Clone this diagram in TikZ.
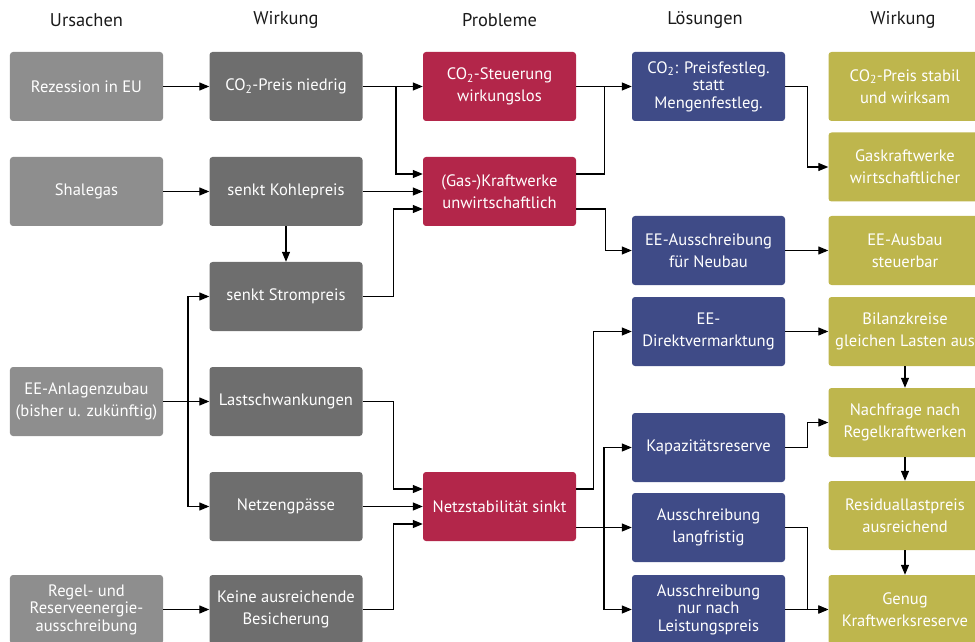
\documentclass[tikz,border=0pt]{standalone}
\usepackage{fontspec}
\setmainfont{PT Sans}
\usetikzlibrary{arrows.meta,calc}
\definecolor{cone}{HTML}{8E8E8E}
\definecolor{ctwo}{HTML}{6E6E6E}
\definecolor{cred}{HTML}{B3264A}
\definecolor{cblue}{HTML}{3F4B87}
\definecolor{colive}{HTML}{BEB64D}
\definecolor{chead}{HTML}{1A1A1A}
\newcommand{\cotwo}{CO\textsubscript{2}}
\tikzset{
  box/.style={rounded corners=3bp, minimum width=153bp, minimum height=69bp, inner sep=0pt,
    text=white, align=center, font=\fontsize{16.6}{22}\selectfont},
  tri/.style={font=\fontsize{16.6}{17.6}\selectfont},
  bone/.style={box, fill=cone},
  btwo/.style={box, fill=ctwo},
  bred/.style={box, fill=cred},
  bblue/.style={box, fill=cblue},
  bolive/.style={box, fill=colive},
  head/.style={text=chead, font=\fontsize{18.5}{20}\selectfont},
  conn/.style={line width=1.2bp, draw=black},
  arr/.style={conn, -{Triangle[length=10bp,width=8bp]}},
}
\begin{document}
\begin{tikzpicture}[x=1bp,y=-1bp]
\useasboundingbox (0,0) rectangle (975,642);
\clip (0,0) rectangle (975,642);
% headers
\node[head] (h1) at (86.5,20) {Ursachen};
\node[head] (h2) at (286,20) {Wirkung};
\node[head] (h3) at (499.5,20) {Probleme};
\node[head] (h4) at (705,20) {Lösungen};
\node[head] (h5) at (903,20) {Wirkung};
% column 1
\node[bone] (c1) at (86.5,86.5) {Rezession in EU};
\node[bone] (c2) at (86.5,191.5) {Shalegas};
\node[bone] (c3) at (86.5,401.5) {EE-Anlagenzubau\\(bisher u. zukünftig)};
\node[bone,tri] (c4) at (86.5,609.5) {Regel- und\\Reserveenergie-\\ausschreibung};
% column 2
\node[btwo] (w1) at (286,86.5) {\cotwo-Preis niedrig};
\node[btwo] (w2) at (286,191.5) {senkt Kohlepreis};
\node[btwo] (w3) at (286,296.5) {senkt Strompreis};
\node[btwo] (w4) at (286,401.5) {Lastschwankungen};
\node[btwo] (w5) at (286,506.5) {Netzengpässe};
\node[btwo] (w6) at (286,609.5) {Keine ausreichende\\Besicherung};
% column 3
\node[bred] (p1) at (499.5,86.5) {\cotwo-Steuerung\\wirkungslos};
\node[bred] (p2) at (499.5,191.5) {(Gas-)Kraftwerke\\unwirtschaftlich};
\node[bred] (p3) at (499.5,506.5) {Netzstabilität sinkt};
% column 4
\node[bblue,tri] (l1) at (708.5,86.5) {\cotwo: Preisfestleg.\\statt\\Mengenfestleg.};
\node[bblue] (l2) at (708.5,250.5) {EE-Ausschreibung\\für Neubau};
\node[bblue] (l3) at (708.5,331.5) {EE-\\Direktvermarktung};
\node[bblue] (l4) at (708.5,447.5) {Kapazitätsreserve};
\node[bblue] (l5) at (708.5,527.5) {Ausschreibung\\langfristig};
\node[bblue,tri] (l6) at (708.5,609.5) {Ausschreibung\\nur nach\\Leistungspreis};
% column 5
\node[bolive] (f1) at (905,86.5) {\cotwo-Preis stabil\\und wirksam};
\node[bolive] (f2) at (905,167) {Gaskraftwerke\\wirtschaftlicher};
\node[bolive] (f3) at (905,250.5) {EE-Ausbau\\steuerbar};
\node[bolive] (f4) at (905,331.5) {Bilanzkreise\\gleichen Lasten aus};
\node[bolive] (f5) at (905,422.5) {Nachfrage nach\\Regelkraftwerken};
\node[bolive] (f6) at (905,515.5) {Residuallastpreis\\ausreichend};
\node[bolive] (f7) at (905,609.5) {Genug\\Kraftwerksreserve};
% junctions
\coordinate (j1) at (396,86.5);
\coordinate (s1) at (188,401.5);
\coordinate (j3) at (604.5,86.5);
\coordinate (s2) at (604,527.5);
% connectors col1 -> col2
\draw[arr] (c1.east) -- (w1.west);
\draw[arr] (c2.east) -- (w2.west);
\draw[arr] (c3.east) -- (w4.west);
\draw[arr] (s1) |- (w3.west);
\draw[arr] (s1) |- (w5.west);
\draw[arr] (c4.east) -- (w6.west);
\draw[arr] (w2.south) -- (w3.north);
% col2 -> col3
\draw[arr] (w1.east) -- (p1.west);
\draw[arr] (j1) |- ($(p2.west)+(0,-17.5)$);
\draw[arr] (w2.east) -- (p2.west);
\draw[arr] (w3.east) -- ++(31,0) |- ($(p2.west)+(0,17.5)$);
\draw[arr] (w4.east) -- ++(31,0) |- ($(p3.west)+(0,-17.5)$);
\draw[arr] (w5.east) -- (p3.west);
\draw[arr] (w6.east) -- ++(31,0) |- ($(p3.west)+(0,17.5)$);
% col3 -> col4
\draw[arr] (p1.east) -- (l1.west);
\draw[conn] ($(p2.east)+(0,-17.5)$) -| (j3);
\draw[arr] ($(p2.east)+(0,17.5)$) -- ++(29,0) |- (l2.west);
\draw[arr] ($(p3.east)+(0,-17.5)$) -- ++(17,0) |- (l3.west);
\draw[arr] (p3.east |- l5.west) -- (l5.west);
\draw[arr] (s2) |- (l4.west);
\draw[arr] (s2) |- (l6.west);
% col4 -> col5
\draw[arr] (l1.east) -- ++(22,0) |- (f2.west);
\draw[arr] (l2.east) -- (f3.west);
\draw[arr] (l3.east) -- (f4.west);
\draw[arr] (l4.east) -- ++(22,0) |- (f5.west);
\draw[arr] (l5.east) -- ++(22,0) |- (f7.west);
\draw[arr] (l6.east) -- (f7.west);
% col5 vertical
\draw[arr] (f4.south) -- (f5.north);
\draw[arr] (f5.south) -- (f6.north);
\draw[arr] (f6.south) -- (f7.north);
\end{tikzpicture}
\end{document}
